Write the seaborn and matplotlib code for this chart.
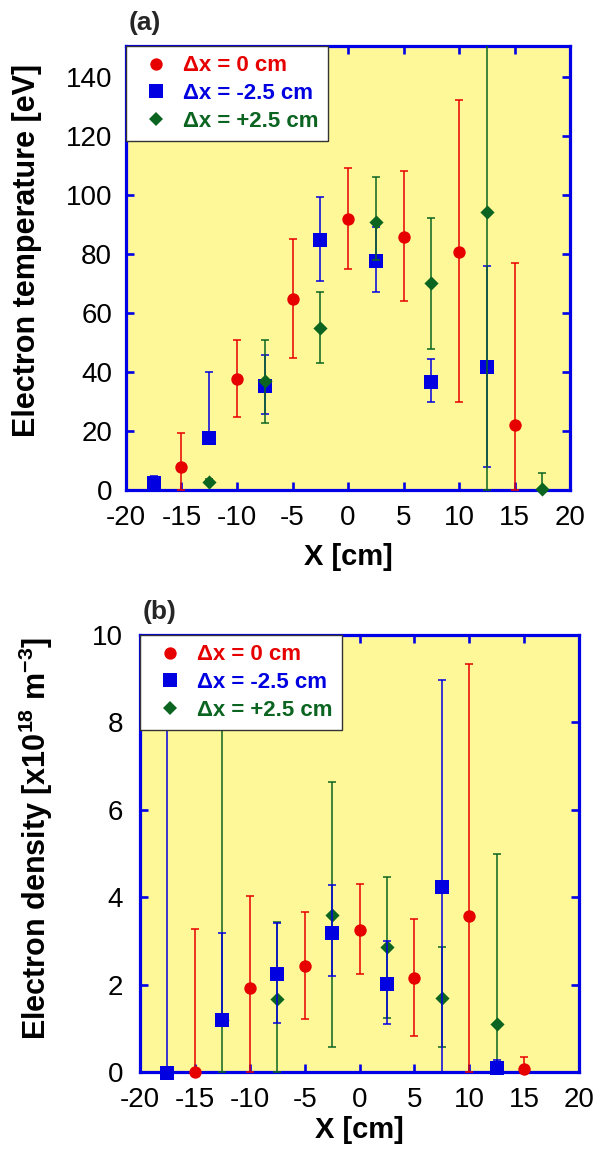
import numpy as np
import pandas as pd
import matplotlib
matplotlib.use("Agg")
import matplotlib.pyplot as plt
import seaborn as sns
from matplotlib.lines import Line2D

# ---------------- data ----------------
x_red = [-15, -10, -5, 0, 5, 10, 15]
x_blue = [-17.5, -12.5, -7.5, -2.5, 2.5, 7.5, 12.5]
x_green = [-12.5, -7.5, -2.5, 2.5, 7.5, 12.5, 17.5]
x_green_b = [-12.5, -7.5, -2.5, 2.5, 7.5, 12.5]

# (a) electron temperature [eV]
te_red = [7.7, 37.7, 64.8, 92.0, 85.7, 80.6, 21.9]
te_red_hi = [19.2, 50.8, 85.0, 109.3, 108.0, 132.3, 77.1]
te_red_lo = [0.0, 24.8, 44.9, 75.0, 64.0, 29.9, 0.0]

te_blue = [2.3, 17.5, 35.3, 84.7, 77.5, 36.5, 41.7]
te_blue_hi = [4.9, 40.0, 45.7, 99.4, 89.2, 44.3, 75.9]
te_blue_lo = [0.0, 16.5, 25.6, 70.8, 67.0, 29.9, 7.9]

te_green = [2.8, 37.0, 55.0, 90.9, 70.0, 94.2, 0.5]
te_green_hi = [3.6, 50.8, 67.2, 106.1, 92.2, 170.0, 5.9]
te_green_lo = [2.0, 22.8, 42.9, 78.0, 47.8, 0.0, 0.0]

# (b) electron density [x10^18 m^-3]
ne_red = [0.0, 1.92, 2.42, 3.26, 2.15, 3.56, 0.06]
ne_red_hi = [3.27, 4.03, 3.66, 4.31, 3.50, 9.33, 0.35]
ne_red_lo = [0.0, 0.0, 1.21, 2.24, 0.82, 0.0, 0.0]

ne_blue = [-0.03, 1.19, 2.25, 3.19, 2.02, 4.24, 0.09]
ne_blue_hi = [12.0, 3.19, 3.42, 4.27, 3.00, 8.98, 0.27]
ne_blue_lo = [0.0, 1.19, 1.12, 2.19, 1.10, 0.0, 0.0]

ne_green = [1.2, 1.68, 3.60, 2.85, 1.70, 1.09]
ne_green_hi = [12.0, 3.44, 6.64, 4.47, 2.85, 5.00]
ne_green_lo = [0.0, 0.0, 0.57, 1.24, 0.57, 0.0]

labels = ["\u0394x = 0 cm", "\u0394x = -2.5 cm", "\u0394x = +2.5 cm"]
xticks = [-20, -15, -10, -5, 0, 5, 10, 15, 20]

# ---------------- style ----------------
sns.set_theme(style="ticks")
plt.rcParams["font.family"] = ["Liberation Sans", "DejaVu Sans"]
plt.rcParams["mathtext.fontset"] = "custom"
plt.rcParams["mathtext.rm"] = "Liberation Sans"
plt.rcParams["mathtext.bf"] = "Liberation Sans:bold"

RED = "#E60000"
BLUE = "#0000E0"
GREEN = "#0B6420"
BG = "#FFF899"
SPINE = "#0000E6"
colors = [RED, BLUE, GREEN]
markers = ["o", "s", "D"]
sizes = [80, 100, 52]

fig = plt.figure(figsize=(6.03, 11.5), dpi=100)
axA = fig.add_axes([126 / 603, (1150 - 490) / 1150, 444 / 603, 444 / 1150])
axB = fig.add_axes([140 / 603, (1150 - 1072) / 1150, 439 / 603, 437 / 1150])


def draw_series(ax, x, y, hi, lo, color, marker, size, zbase):
    y = np.asarray(y)
    yerr = np.vstack([y - np.asarray(lo), np.asarray(hi) - y])
    yerr = np.clip(yerr, 0, None)
    ax.errorbar(x, y, yerr=yerr, fmt="none", ecolor=color, elinewidth=1.1,
                capsize=2.6, capthick=1.1, zorder=zbase)
    df = pd.DataFrame({"x": x, "y": y})
    sns.scatterplot(data=df, x="x", y="y", ax=ax, color=color, marker=marker,
                    s=size, linewidth=0, zorder=zbase + 0.5, legend=False,
                    clip_on=False)


def style_axes(ax, ylim, yticks, ypad):
    ax.set_facecolor(BG)
    ax.set_xlim(-20, 20)
    ax.set_ylim(*ylim)
    ax.set_xticks(xticks)
    ax.set_xticklabels([str(t) for t in xticks])
    ax.set_yticks(yticks)
    ax.set_yticklabels([str(t) for t in yticks])
    for s in ax.spines.values():
        s.set_color(SPINE)
        s.set_linewidth(2.3)
        s.set_visible(True)
        s.set_zorder(1.5)
    ax.tick_params(axis="both", which="major", direction="in", length=6,
                   width=1.9, color=SPINE, top=True, right=True,
                   labelsize=20, labelcolor="black")
    ax.tick_params(axis="x", pad=11)
    ax.tick_params(axis="y", pad=ypad)
    ax.grid(False)


# panel (a)
draw_series(axA, x_red, te_red, te_red_hi, te_red_lo, RED, "o", sizes[0], 2)
draw_series(axA, x_blue, te_blue, te_blue_hi, te_blue_lo, BLUE, "s", sizes[1], 3)
draw_series(axA, x_green, te_green, te_green_hi, te_green_lo, GREEN, "D", sizes[2], 4)
style_axes(axA, (0, 150.5), [0, 20, 40, 60, 80, 100, 120, 140], 10)

# panel (b)
draw_series(axB, x_red, ne_red, ne_red_hi, ne_red_lo, RED, "o", sizes[0], 2)
draw_series(axB, x_green_b, ne_green, ne_green_hi, ne_green_lo, GREEN, "D", sizes[2], 3)
draw_series(axB, x_blue, ne_blue, ne_blue_hi, ne_blue_lo, BLUE, "s", sizes[1], 4)
style_axes(axB, (0, 10), [0, 2, 4, 6, 8, 10], 12)

for ax, ylab, ycoords, xlcoord, tag in [
    (axA, "Electron temperature [eV]", (-0.189, 0.54), -0.119, "(a)"),
    (axB, r"Electron density [x10$^{\mathbf{18}}$ m$^{\mathbf{-3}}$]",
     (-0.194, 0.535), -0.101, "(b)"),
]:
    ax.set_xlabel("X [cm]", fontsize=21, fontweight="bold", color="black")
    ax.xaxis.set_label_coords(0.5, xlcoord)
    ax.set_ylabel(ylab, fontsize=22, fontweight="bold", color="black")
    ax.yaxis.set_label_coords(*ycoords)
    ax.text(0.005, 1.025, tag, transform=ax.transAxes, fontsize=19,
            fontweight="bold", ha="left", va="bottom")

    handles = [Line2D([], [], linestyle="none", marker=m, color=c,
                      markersize=ms, markeredgewidth=0)
               for m, c, ms in zip(markers, colors, [8.9, 9.7, 7.1])]
    leg = ax.legend(handles, labels, loc="upper left", bbox_to_anchor=(0, 1),
                    borderaxespad=0.0, frameon=True, fancybox=False,
                    framealpha=1.0, edgecolor="#333333", facecolor="white",
                    prop={"weight": "bold", "size": 16},
                    handlelength=1.9, handletextpad=0.25, borderpad=0.42,
                    labelspacing=0.3)
    leg.get_frame().set_linewidth(1.0)
    leg.set_zorder(10)
    for t, c in zip(leg.get_texts(), colors):
        t.set_color(c)

fig.savefig("out.png", dpi=100, facecolor="white")
